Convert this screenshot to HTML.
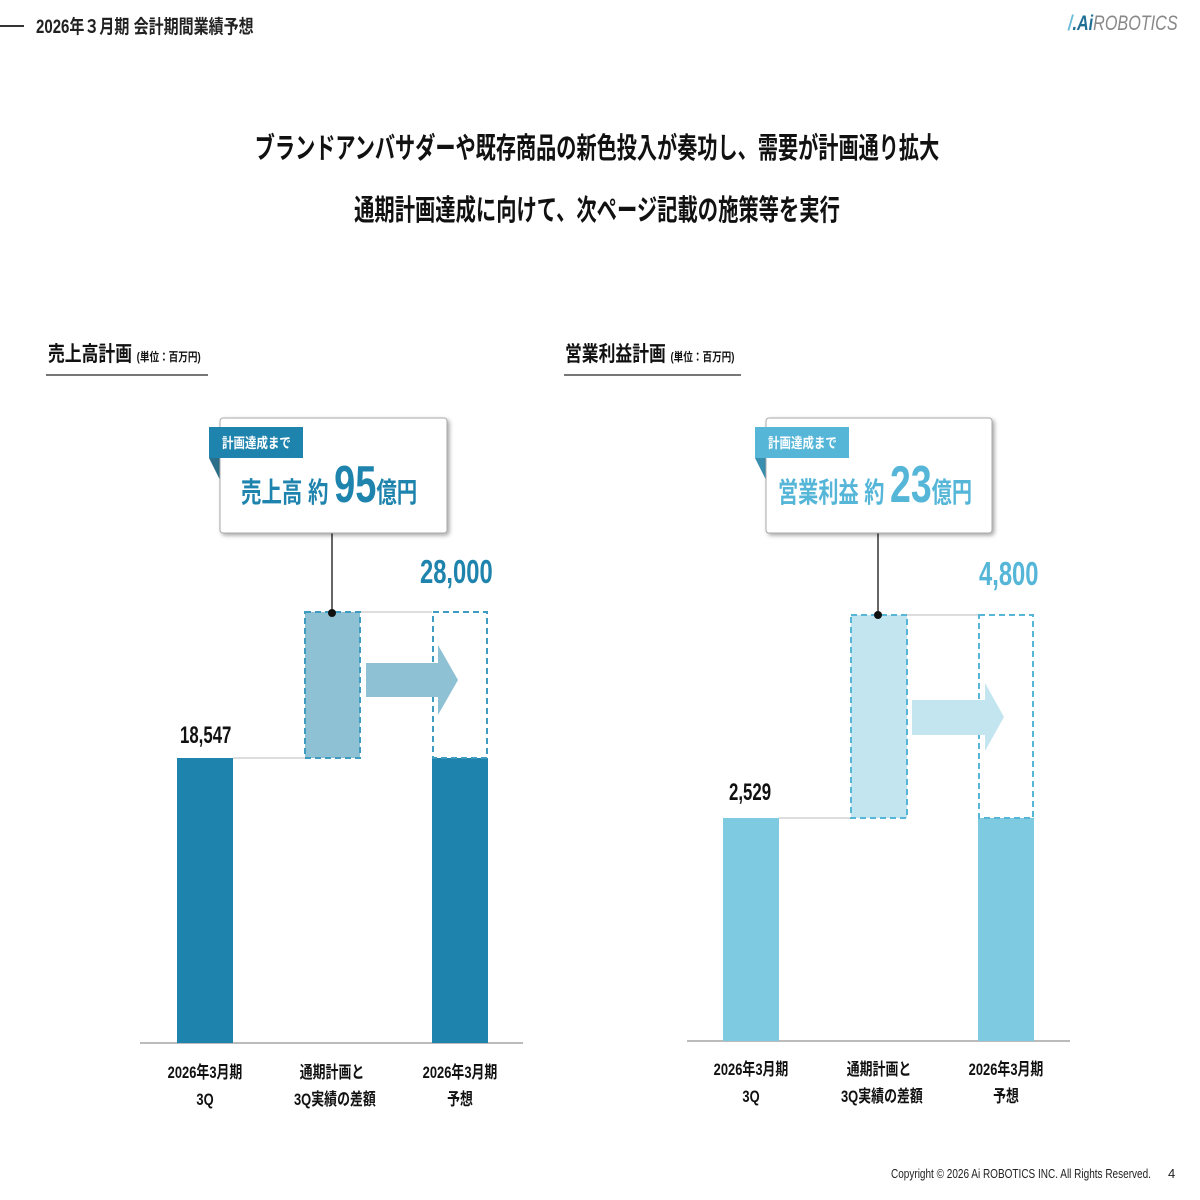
<!DOCTYPE html>
<html><head><meta charset="utf-8"><style>
body{margin:0;width:1200px;height:1200px;background:#fff;position:relative;overflow:hidden;font-family:"Liberation Sans Narrow","Liberation Sans","Noto Sans CJK JP",sans-serif;}
.a{position:absolute;white-space:nowrap}
.l{transform-origin:left}
.c{transform-origin:center}
</style></head><body>
<div class="a" style="left:0;top:25px;width:24px;height:2px;background:#333"></div>
<div class="a l" style="left:36px;top:12px;font-size:19px;color:#222;font-weight:bold;transform:scaleX(.79)">2026年３月期 会計期間業績予想</div>
<div class="a l" style="left:1068px;top:12px;font-size:21px;color:#888;font-style:italic;transform:scaleX(.77)"><span style="color:#6bbbd8;font-weight:bold">/</span><span style="color:#1f6f95;font-weight:bold">.Ai</span>ROBOTICS</div>
<div class="a c" style="left:-3px;width:1200px;top:125px;text-align:center;font-size:29px;font-weight:bold;color:#111;transform:scaleX(.695)">ブランドアンバサダーや既存商品の新色投入が奏功し、需要が計画通り拡大</div>
<div class="a c" style="left:-3px;width:1200px;top:187px;text-align:center;font-size:29px;font-weight:bold;color:#111;transform:scaleX(.7)">通期計画達成に向けて、次ページ記載の施策等を実行</div>

<div class="a l" style="left:48px;top:338px;font-size:21px;font-weight:bold;color:#111;transform:scaleX(.8)">売上高計画 <span style="font-size:12px">(単位：百万円)</span></div>
<div class="a" style="left:46px;top:374px;width:162px;height:2px;background:#777"></div>
<div class="a l" style="left:565px;top:338px;font-size:21px;font-weight:bold;color:#111;transform:scaleX(.8)">営業利益計画 <span style="font-size:12px">(単位：百万円)</span></div>
<div class="a" style="left:564px;top:374px;width:177px;height:2px;background:#777"></div>

<svg class="a" style="left:0;top:0" width="1200" height="1200">
<defs><filter id="s"><feDropShadow dx="2" dy="2" stdDeviation="2" flood-opacity=".35"/></filter></defs>
<line x1="140" y1="1043" x2="523" y2="1043" stroke="#bbb" stroke-width="2"/>
<line x1="233" y1="758" x2="305" y2="758" stroke="#ddd" stroke-width="2"/>
<line x1="360" y1="612" x2="432" y2="612" stroke="#ddd" stroke-width="2"/>
<rect x="177" y="758" width="56" height="285" fill="#1f84ad"/>
<rect x="305" y="612" width="55" height="146" fill="#8fc1d5" stroke="#3f9cc0" stroke-width="2" stroke-dasharray="6,4"/>
<rect x="432" y="758" width="56" height="285" fill="#1f84ad"/>
<rect x="433" y="612" width="54" height="146" fill="none" stroke="#3f9cc0" stroke-width="2" stroke-dasharray="6,4"/>
<polygon points="366,663 438,663 438,645 458,680 438,715 438,697 366,697" fill="#8fc1d5"/>
<line x1="332" y1="533" x2="332" y2="612" stroke="#333" stroke-width="1.5"/>
<circle cx="332" cy="613" r="4" fill="#111"/>
<polygon points="209,458 220,458 220,480" fill="#2b6f8a"/>
<rect x="220" y="418" width="227" height="115" rx="3" fill="#fff" stroke="#aaa" filter="url(#s)"/>
<rect x="209" y="427" width="94" height="31" fill="#1f84ad"/>
<line x1="687" y1="1041" x2="1070" y2="1041" stroke="#bbb" stroke-width="2"/>
<line x1="779" y1="818" x2="851" y2="818" stroke="#ddd" stroke-width="2"/>
<line x1="907" y1="615" x2="978" y2="615" stroke="#ddd" stroke-width="2"/>
<rect x="723" y="818" width="56" height="223" fill="#7ecbe1"/>
<rect x="851" y="615" width="56" height="203" fill="#c2e5f0" stroke="#55b6d8" stroke-width="2" stroke-dasharray="6,4"/>
<rect x="978" y="818" width="56" height="223" fill="#7ecbe1"/>
<rect x="979" y="615" width="54" height="203" fill="none" stroke="#55b6d8" stroke-width="2" stroke-dasharray="6,4"/>
<polygon points="912,700 985,700 985,683 1004,717 985,751 985,735 912,735" fill="#c2e5f0"/>
<line x1="878" y1="533" x2="878" y2="615" stroke="#333" stroke-width="1.5"/>
<circle cx="878" cy="615" r="4" fill="#111"/>
<polygon points="755,458 766,458 766,480" fill="#3a8fae"/>
<rect x="766" y="418" width="226" height="115" rx="3" fill="#fff" stroke="#aaa" filter="url(#s)"/>
<rect x="755" y="427" width="94" height="31" fill="#55b6d8"/>
</svg>

<div class="a l" style="left:222px;top:433px;font-size:14px;color:#fff;font-weight:bold;transform:scaleX(.82)">計画達成まで</div>
<div class="a l" style="left:241px;top:455px;font-size:28px;color:#1f84ad;font-weight:bold;transform:scaleX(.73)">売上高 約 <span style="font-size:52px">95</span>億円</div>
<div class="a l" style="left:768px;top:433px;font-size:14px;color:#fff;font-weight:bold;transform:scaleX(.82)">計画達成まで</div>
<div class="a l" style="left:778px;top:455px;font-size:28px;color:#55b6d8;font-weight:bold;transform:scaleX(.72)">営業利益 約 <span style="font-size:52px">23</span>億円</div>

<div class="a l" style="left:420px;top:553px;font-size:33px;color:#1f84ad;font-weight:bold;transform:scaleX(.72)">28,000</div>
<div class="a l" style="left:180px;top:722px;font-size:24px;color:#111;font-weight:bold;transform:scaleX(.7)">18,547</div>
<div class="a l" style="left:979px;top:555px;font-size:33px;color:#55b6d8;font-weight:bold;transform:scaleX(.72)">4,800</div>
<div class="a l" style="left:729px;top:779px;font-size:24px;color:#111;font-weight:bold;transform:scaleX(.7)">2,529</div>

<div class="a c" style="left:155px;width:100px;top:1059px;text-align:center;font-size:17px;line-height:27px;color:#111;font-weight:bold;transform:scaleX(.76)">2026年3月期<br>3Q</div>
<div class="a c" style="left:282px;width:100px;top:1059px;text-align:center;font-size:17px;line-height:27px;color:#111;font-weight:bold;transform:scaleX(.76)">通期計画と<br>3Q実績の差額</div>
<div class="a c" style="left:410px;width:100px;top:1059px;text-align:center;font-size:17px;line-height:27px;color:#111;font-weight:bold;transform:scaleX(.76)">2026年3月期<br>予想</div>
<div class="a c" style="left:701px;width:100px;top:1056px;text-align:center;font-size:17px;line-height:27px;color:#111;font-weight:bold;transform:scaleX(.76)">2026年3月期<br>3Q</div>
<div class="a c" style="left:829px;width:100px;top:1056px;text-align:center;font-size:17px;line-height:27px;color:#111;font-weight:bold;transform:scaleX(.76)">通期計画と<br>3Q実績の差額</div>
<div class="a c" style="left:956px;width:100px;top:1056px;text-align:center;font-size:17px;line-height:27px;color:#111;font-weight:bold;transform:scaleX(.76)">2026年3月期<br>予想</div>

<div class="a l" style="left:891px;top:1166px;font-size:13px;color:#222;transform:scaleX(.77)">Copyright © 2026 Ai ROBOTICS INC. All Rights Reserved.</div>
<div class="a" style="left:1168px;top:1166px;font-size:13px;color:#222">4</div>
</body></html>
